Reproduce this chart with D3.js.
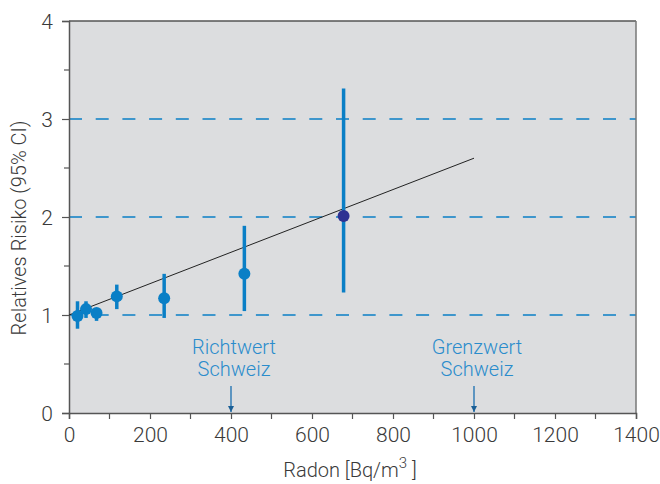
<!DOCTYPE html>
<html>
<head>
<meta charset="utf-8">
<script src="https://cdn.jsdelivr.net/npm/d3@7"></script>
<style>
  body { margin: 0; background: #fff; }
  text { font-family: Roboto, "Liberation Sans", Arial, sans-serif; font-weight: 300; }
</style>
</head>
<body>
<div id="chart"></div>
<script>
// radon concentration groups (Bq/m3) with relative risk and 95% CI
const radon = [21, 42, 68, 118, 235, 433, 678];
const rr = [0.99, 1.06, 1.02, 1.19, 1.17, 1.42, 2.01];
const ciLow = [0.86, 0.97, 0.94, 1.06, 0.97, 1.04, 1.23];
const ciHigh = [1.14, 1.14, 1.07, 1.31, 1.42, 1.91, 3.31];

// linear fit: RR = 1 + 0.16 per 100 Bq/m3
const fitX = [0, 1000];
const fitY = [1.0, 2.6];

const xTicks = [0, 200, 400, 600, 800, 1000, 1200, 1400];
const xMinor = [100, 300, 500, 700, 900, 1100, 1300];
const yTicks = [0, 1, 2, 3, 4];
const yMinor = [0.5, 1.5, 2.5, 3.5];
const refLines = [1, 2, 3];

const markers = [
  { x: 400, label: ["Richtwert", "Schweiz"] },
  { x: 1000, label: ["Grenzwert", "Schweiz"] }
];

const blue = "#0a7fc6";
const textCol = "#3a3a3a";
const W = 660, H = 484;
const pLeft = 69, pRight = 636, pTop = 21, pBottom = 413;

const svg = d3.select("#chart").append("svg")
  .attr("width", W).attr("height", H);

const x = d3.scaleLinear().domain([0, 1400]).range([pLeft, pRight]);
const y = d3.scaleLinear().domain([0, 4]).range([pBottom, pTop]);

// plot background
svg.append("rect")
  .attr("x", pLeft).attr("y", pTop)
  .attr("width", pRight - pLeft).attr("height", pBottom - pTop)
  .attr("fill", "#dcdddf");

// dashed reference lines
svg.selectAll("line.ref")
  .data(refLines)
  .enter().append("line")
  .attr("class", "ref")
  .attr("x1", pLeft).attr("x2", pRight)
  .attr("y1", d => y(d)).attr("y2", d => y(d))
  .attr("stroke", blue).attr("stroke-width", 1.5)
  .attr("stroke-dasharray", "13,13.7");

// frame top and right
svg.append("line")
  .attr("x1", pLeft).attr("x2", pRight).attr("y1", pTop).attr("y2", pTop)
  .attr("stroke", "#555").attr("stroke-width", 1.5);
svg.append("line")
  .attr("x1", pRight).attr("x2", pRight).attr("y1", pTop).attr("y2", pBottom)
  .attr("stroke", "#777").attr("stroke-width", 1.5);

// axes
const xAxis = svg.append("g")
  .attr("transform", "translate(0," + pBottom + ")")
  .call(d3.axisBottom(x).tickValues(xTicks).tickSize(6).tickPadding(6).tickFormat(d3.format("d")));
xAxis.append("g").selectAll("line")
  .data(xMinor).enter().append("line")
  .attr("x1", d => x(d)).attr("x2", d => x(d))
  .attr("y1", 0).attr("y2", 6);

const yAxis = svg.append("g")
  .attr("transform", "translate(" + pLeft + ",0)")
  .call(d3.axisLeft(y).tickValues(yTicks).tickSize(7).tickPadding(9).tickFormat(d3.format("d")));
yAxis.append("g").selectAll("line")
  .data(yMinor).enter().append("line")
  .attr("x1", -5).attr("x2", 0)
  .attr("y1", d => y(d)).attr("y2", d => y(d));

[xAxis, yAxis].forEach(a => {
  a.select(".domain").attr("stroke", "#555").attr("stroke-width", 1.5);
  a.selectAll("line").attr("stroke", "#555").attr("stroke-width", 1.2);
  a.selectAll("text")
    .attr("fill", textCol)
    .style("font-size", "21px")
    .style("font-family", "Roboto, 'Liberation Sans', Arial, sans-serif")
    .style("font-weight", 300);
});
xAxis.selectAll(".tick text").attr("dy", "0.8em");
yAxis.selectAll(".tick text").attr("dy", "0.36em");

// axis titles
const xt = svg.append("text")
  .attr("x", 350).attr("y", 477)
  .attr("text-anchor", "middle")
  .attr("fill", textCol)
  .style("font-size", "20px");
xt.append("tspan").text("Radon [Bq/m");
xt.append("tspan").text("3").attr("dy", -9).style("font-size", "15px");
xt.append("tspan").text(" ]").attr("dy", 9);

svg.append("text")
  .attr("transform", "translate(26,228) rotate(-90)")
  .attr("text-anchor", "middle")
  .attr("fill", textCol)
  .style("font-size", "20px")
  .text("Relatives Risiko (95% CI)");

// fit line
svg.append("line")
  .attr("x1", x(fitX[0])).attr("y1", y(fitY[0]))
  .attr("x2", x(fitX[1])).attr("y2", y(fitY[1]))
  .attr("stroke", "#222").attr("stroke-width", 1);

// error bars and points
const pts = radon.map((r, i) => ({ x: r, y: rr[i], lo: ciLow[i], hi: ciHigh[i], last: i === radon.length - 1 }));

svg.selectAll("line.err")
  .data(pts).enter().append("line")
  .attr("class", "err")
  .attr("x1", d => x(d.x)).attr("x2", d => x(d.x))
  .attr("y1", d => y(d.lo)).attr("y2", d => y(d.hi))
  .attr("stroke", blue).attr("stroke-width", 3.5);

svg.selectAll("circle.pt")
  .data(pts).enter().append("circle")
  .attr("class", "pt")
  .attr("cx", d => x(d.x)).attr("cy", d => y(d.y))
  .attr("r", 6)
  .attr("fill", d => d.last ? "#2e3192" : blue);

// guideline markers
const defs = svg.append("defs");
defs.append("marker")
  .attr("id", "arr")
  .attr("viewBox", "0 0 10 10")
  .attr("refX", 10).attr("refY", 5)
  .attr("markerWidth", 6).attr("markerHeight", 6)
  .attr("markerUnits", "userSpaceOnUse")
  .attr("orient", "auto")
  .append("path").attr("d", "M0,0L10,5L0,10Z").attr("fill", "#1a5f96");

const mk = svg.selectAll("g.mk").data(markers).enter().append("g").attr("class", "mk");
mk.append("line")
  .attr("x1", d => x(d.x)).attr("x2", d => x(d.x))
  .attr("y1", 386).attr("y2", pBottom - 1)
  .attr("stroke", "#1a6fb0").attr("stroke-width", 1.3)
  .attr("marker-end", "url(#arr)");
mk.append("text")
  .attr("x", d => x(d.x) + 3)
  .attr("text-anchor", "middle")
  .attr("fill", "#2a8ccc")
  .style("font-size", "20px")
  .selectAll("tspan").data(d => d.label).enter().append("tspan")
  .attr("x", function() { return this.parentNode.getAttribute("x"); })
  .attr("y", (d, i) => 354 + i * 22)
  .text(d => d);
</script>
</body>
</html>
